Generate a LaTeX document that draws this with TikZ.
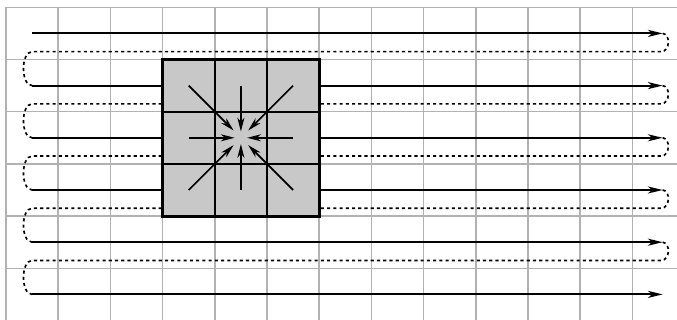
\documentclass[tikz,border=0pt]{standalone}
\usetikzlibrary{arrows.meta,calc}
\definecolor{gridgray}{RGB}{178,178,178}
\definecolor{boxgray}{RGB}{200,200,200}
\tikzset{
  gridline/.style={draw=gridgray, line width=0.8pt},
  fwd/.style={line width=1.1pt, -{Stealth[length=8pt,width=3.8pt,inset=2.2pt]}},
  back/.style={line width=0.9pt, dash pattern=on 1.7pt off 1.7pt},
  boxline/.style={line width=0.9pt},
  boxborder/.style={line width=1.7pt},
  inarrow/.style={line width=0.9pt, -{Stealth[length=7.5pt,width=3.8pt,inset=2.2pt]}}
}
\begin{document}
\begin{tikzpicture}[x=1cm,y=1cm]
\useasboundingbox (-0.115,-5.99) rectangle (12.855,0.14);
\begin{scope}
\clip (-0.115,-5.99) rectangle (12.855,0.14);
% grid
\foreach \i in {0,...,13} \draw[gridline] (\i,0) -- (\i,-6.2);
\foreach \j in {0,...,6} \draw[gridline] (0,-\j) -- (13.2,-\j);
\end{scope}
% forward passes
\foreach \r in {0,...,5} \draw[fwd] (0.5,-\r-0.5) -- (12.58,-\r-0.5);
% return passes
\foreach \r in {0,...,4}
  \draw[back] (12.58,-\r-0.5) .. controls (12.74,-\r-0.52) and (12.72,-\r-0.85) .. (12.55,-\r-0.85)
     -- (0.5,-\r-0.85) .. controls (0.28,-\r-0.85) and (0.28,-\r-1.5) .. (0.5,-\r-1.5);
% kernel box
\fill[boxgray] (3,-1) rectangle (6,-4);
\draw[boxline] (4,-1) -- (4,-4) (5,-1) -- (5,-4) (3,-2) -- (6,-2) (3,-3) -- (6,-3);
\draw[boxborder] (3,-1) rectangle (6,-4);
\coordinate (c) at (4.5,-2.5);
\draw[inarrow] (3.5,-2.5) -- ($(c)+(-0.12,0)$);
\draw[inarrow] (5.5,-2.5) -- ($(c)+(0.12,0)$);
\draw[inarrow] (4.5,-1.5) -- ($(c)+(0,0.12)$);
\draw[inarrow] (4.5,-3.5) -- ($(c)+(0,-0.12)$);
\draw[inarrow] (3.5,-1.5) -- ($(c)+(-0.14,0.14)$);
\draw[inarrow] (5.5,-1.5) -- ($(c)+(0.14,0.14)$);
\draw[inarrow] (3.5,-3.5) -- ($(c)+(-0.14,-0.14)$);
\draw[inarrow] (5.5,-3.5) -- ($(c)+(0.14,-0.14)$);
\end{tikzpicture}
\end{document}
